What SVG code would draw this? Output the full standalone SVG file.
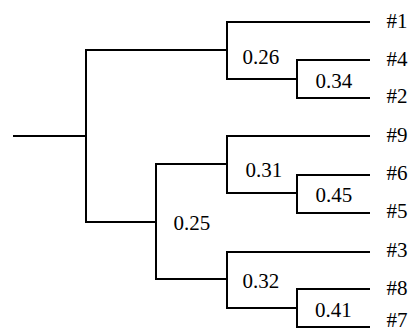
<svg xmlns="http://www.w3.org/2000/svg" width="411" height="331" viewBox="0 0 411 331">
<style>
.c{fill:none;stroke:#000;stroke-width:2;stroke-linecap:square;stroke-linejoin:miter}
text{font-family:"Liberation Serif","Times New Roman",serif;font-size:21px;fill:#000}
</style>
<rect width="411" height="331" fill="#fff"/>
<g id="connectors">
<path class="c" d="M14,136H86"/>
<path class="c" d="M86,136V50H227"/>
<path class="c" d="M86,136V222H156"/>
<path class="c" d="M227,50V22H369"/>
<path class="c" d="M227,50V79H297"/>
<path class="c" d="M297,79V60H369"/>
<path class="c" d="M297,79V98H369"/>
<path class="c" d="M156,222V164H227"/>
<path class="c" d="M156,222V279H227"/>
<path class="c" d="M227,164V136H369"/>
<path class="c" d="M227,164V193H297"/>
<path class="c" d="M297,193V175H369"/>
<path class="c" d="M297,193V213H369"/>
<path class="c" d="M227,279V252H369"/>
<path class="c" d="M227,279V308H297"/>
<path class="c" d="M297,308V289H369"/>
<path class="c" d="M297,308V327H369"/>
</g>
<g id="n026"><text x="242.5" y="63.5">0.26</text></g>
<g id="n034"><text x="315.5" y="87.5">0.34</text></g>
<g id="n031"><text x="245.5" y="176.5">0.31</text></g>
<g id="n045"><text x="315.5" y="202">0.45</text></g>
<g id="n025"><text x="173.5" y="230">0.25</text></g>
<g id="n032"><text x="242.5" y="288">0.32</text></g>
<g id="n041"><text x="315" y="316.5">0.41</text></g>
<g id="leaf1"><text x="386.5" y="27.5">#1</text></g>
<g id="leaf4"><text x="386.5" y="65.5">#4</text></g>
<g id="leaf2"><text x="386.5" y="103">#2</text></g>
<g id="leaf9"><text x="386.5" y="141.5">#9</text></g>
<g id="leaf6"><text x="386.5" y="180">#6</text></g>
<g id="leaf5"><text x="386.5" y="218">#5</text></g>
<g id="leaf3"><text x="386.5" y="256.5">#3</text></g>
<g id="leaf8"><text x="386.5" y="294.5">#8</text></g>
<g id="leaf7"><text x="386.5" y="327">#7</text></g>
</svg>
